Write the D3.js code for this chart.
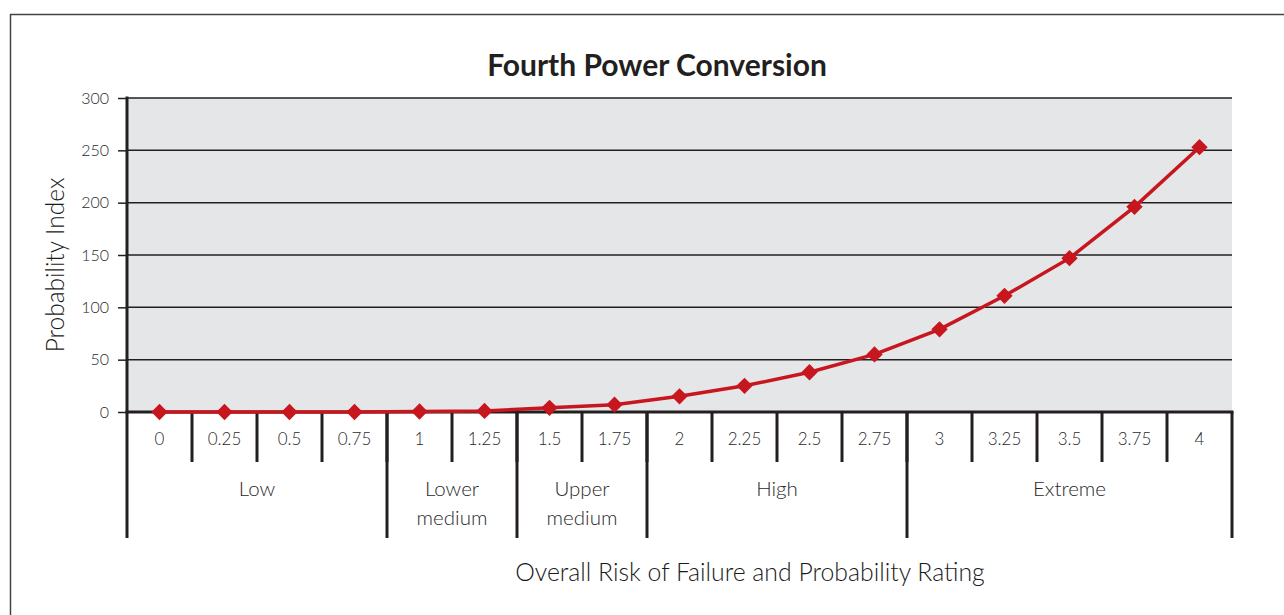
<!DOCTYPE html>
<html>
<head>
<meta charset="utf-8">
<script src="https://cdn.jsdelivr.net/npm/d3@7"></script>
<style>
  body { margin: 0; background: #fff; }
  svg { display: block; font-family: Lato, "Open Sans", sans-serif; }
</style>
</head>
<body>
<div class="bg"></div>
<script>
// chart values
const ratings = ["0", "0.25", "0.5", "0.75", "1", "1.25", "1.5", "1.75", "2",
  "2.25", "2.5", "2.75", "3", "3.25", "3.5", "3.75", "4"];
const probIndex = [0, 0, 0, 0, 0.5, 1, 4, 7, 15, 25, 38, 55, 79, 111, 147, 196, 253];
const yTicks = [0, 50, 100, 150, 200, 250, 300];
const groupNames = [["Low"], ["Lower", "medium"], ["Upper", "medium"], ["High"], ["Extreme"]];
const groupSizes = [4, 2, 2, 4, 5];

const W = 1284, H = 615;
const margin = { top: 98, right: 52, bottom: 203, left: 127 };
const width = W - margin.left - margin.right;
const height = H - margin.top - margin.bottom;

const root = d3.select(".bg").append("svg")
  .attr("width", W)
  .attr("height", H);

// outer frame
root.append("rect")
  .attr("x", 10.5).attr("y", 14.5)
  .attr("width", W + 20).attr("height", H + 20)
  .attr("fill", "none").attr("stroke", "#444").attr("stroke-width", 1.5);

root.append("text")
  .attr("x", 657).attr("y", 76)
  .attr("text-anchor", "middle")
  .attr("font-size", 30).attr("font-weight", "bold").attr("fill", "#231f20")
  .text("Fourth Power Conversion");

const svg = root.append("g")
  .attr("transform", "translate(" + margin.left + "," + margin.top + ")");

const xScale = d3.scaleBand().domain(ratings).range([0, width]).padding(0);
const yScale = d3.scaleLinear().domain([0, 300]).range([height, 0]);

svg.append("rect")
  .attr("width", width).attr("height", height)
  .attr("fill", "#e5e6e8");

// gridlines
svg.append("g")
  .selectAll("line")
  .data(yTicks.filter(d => d > 0))
  .join("line")
  .attr("x1", 0).attr("x2", width)
  .attr("y1", d => yScale(d)).attr("y2", d => yScale(d))
  .attr("stroke", "#231f20").attr("stroke-width", 1.5);

// y axis
const yAxis = svg.append("g")
  .call(d3.axisLeft(yScale).tickValues(yTicks).tickSize(9).tickPadding(9));
yAxis.select(".domain").remove();
yAxis.selectAll(".tick line").attr("stroke", "#231f20").attr("stroke-width", 1.5);
yAxis.selectAll(".tick text")
  .attr("font-size", 16).attr("font-weight", 300).attr("fill", "#2a2a2a")
  .attr("font-family", "Lato, sans-serif");

svg.append("text")
  .attr("transform", "translate(-63," + (height / 2 + 10) + ") rotate(-90)")
  .attr("text-anchor", "middle")
  .attr("font-size", 24.5).attr("font-weight", 300).attr("fill", "#1a1a1a")
  .text("Probability Index");

// x axis: category labels and minor separators
const step = xScale.step();
svg.append("g")
  .selectAll("text")
  .data(ratings)
  .join("text")
  .attr("x", d => xScale(d) + step / 2)
  .attr("y", height + 33)
  .attr("text-anchor", "middle")
  .attr("font-size", 17).attr("font-weight", 300).attr("fill", "#2a2a2a")
  .text(d => d);

svg.append("g")
  .selectAll("line")
  .data(ratings.slice(1))
  .join("line")
  .attr("x1", d => xScale(d)).attr("x2", d => xScale(d))
  .attr("y1", height).attr("y2", height + 50)
  .attr("stroke", "#231f20").attr("stroke-width", 3);

// group separators and labels
let bounds = [0];
groupSizes.forEach((n, i) => bounds.push(bounds[i] + n));
const bx = i => i < ratings.length ? xScale(ratings[i]) : width;

svg.append("g")
  .selectAll("line")
  .data(bounds)
  .join("line")
  .attr("x1", d => bx(d)).attr("x2", d => bx(d))
  .attr("y1", d => d === 0 ? -1.5 : height).attr("y2", height + 126)
  .attr("stroke", "#231f20").attr("stroke-width", 3);

const groups = svg.append("g")
  .selectAll("text")
  .data(groupNames)
  .join("text")
  .attr("x", (d, i) => (bx(bounds[i]) + bx(bounds[i + 1])) / 2)
  .attr("y", height + 84)
  .attr("text-anchor", "middle")
  .attr("font-size", 20.5).attr("font-weight", 300).attr("fill", "#2a2a2a");
groups.selectAll("tspan")
  .data(d => d)
  .join("tspan")
  .attr("x", function() { return d3.select(this.parentNode).attr("x"); })
  .attr("dy", (d, i) => i === 0 ? 0 : 29)
  .text(d => d);

// x axis line
svg.append("line")
  .attr("x1", -1.5).attr("x2", width + 1.5)
  .attr("y1", height).attr("y2", height)
  .attr("stroke", "#231f20").attr("stroke-width", 3);

svg.append("text")
  .attr("x", 623).attr("y", height + 169)
  .attr("text-anchor", "middle")
  .attr("font-size", 24.8).attr("font-weight", 300).attr("fill", "#1a1a1a")
  .text("Overall Risk of Failure and Probability Rating");

// series
const line = d3.line()
  .x((d, i) => xScale(ratings[i]) + step / 2)
  .y(d => yScale(d));

svg.append("path")
  .datum(probIndex)
  .attr("d", line)
  .attr("fill", "none")
  .attr("stroke", "#c8161e")
  .attr("stroke-width", 3.5);

svg.append("g")
  .selectAll("path")
  .data(probIndex)
  .join("path")
  .attr("transform", (d, i) => "translate(" + (xScale(ratings[i]) + step / 2) + "," + yScale(d) + ")")
  .attr("d", d3.symbol(d3.symbolDiamond2, 170))
  .attr("fill", "#c8161e");
</script>
</body>
</html>
